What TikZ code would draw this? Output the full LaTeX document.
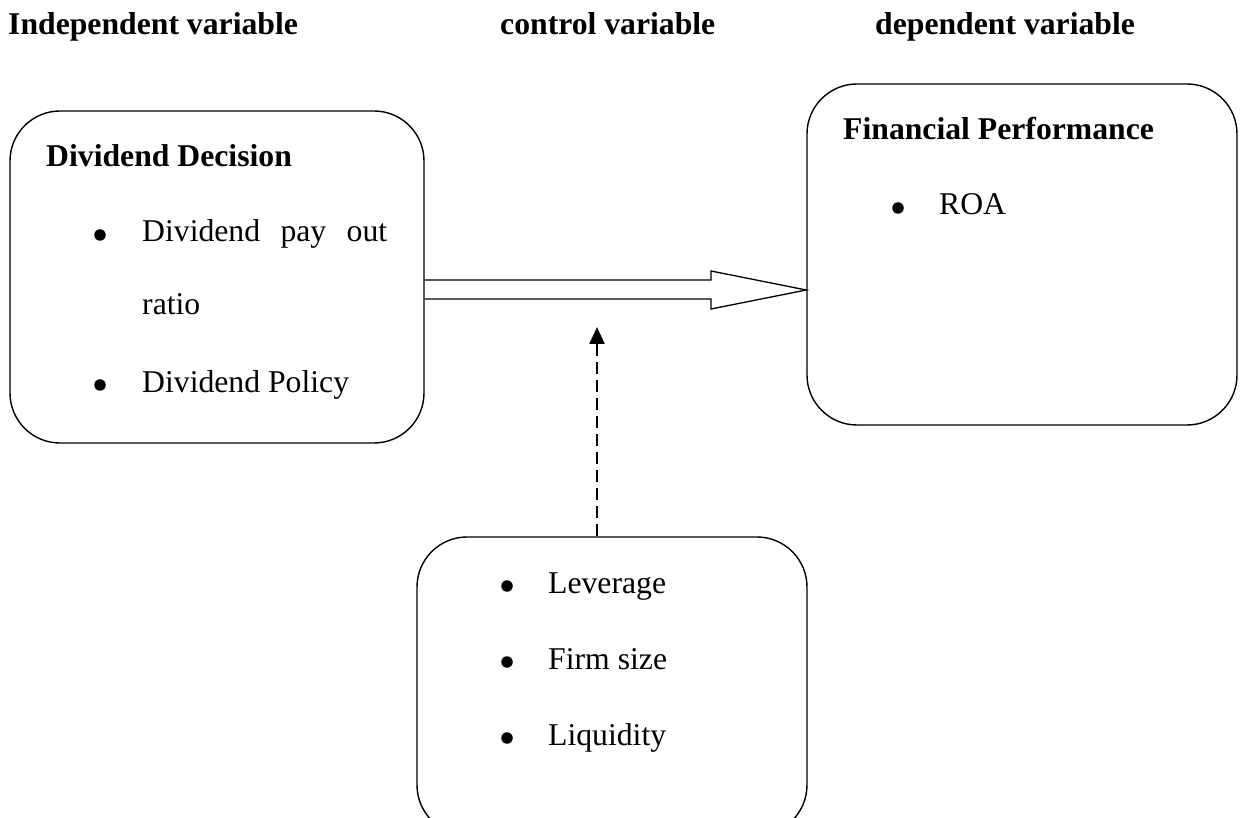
\documentclass[tikz,border=0pt]{standalone}
\usepackage{fontspec}
\setmainfont{Liberation Serif}
\usetikzlibrary{arrows.meta}
\begin{document}
\begin{tikzpicture}[x=1pt,y=-1pt,
  txt/.style={anchor=base west,inner sep=0pt,font=\fontsize{31.7}{38}\selectfont},
  hdr/.style={txt,font=\fontsize{31.7}{38}\selectfont\bfseries},
  rbox/.style={draw,line width=1.4pt,rounded corners=50pt,inner sep=0pt},
  bul/.style={circle,fill,inner sep=0pt,minimum size=11.5pt},
  bigarrow/.style={draw,line width=1.3pt,line join=miter},
  ctlarrow/.style={line width=2.4pt,dash pattern=on 12pt off 6pt,-{Triangle[length=17pt,width=15pt]}}]
\useasboundingbox (0,0) rectangle (1243,818);
\begin{scope}
\clip (0,0) rectangle (1243,818);
% headers
\node[hdr] (h1) at (8,35) {Independent variable};
\node[hdr] (h2) at (500,35) {control variable};
\node[hdr] (h3) at (875,35) {dependent variable};
% boxes
\node[rbox,minimum width=414pt,minimum height=332pt] (L) at (217,277) {};
\node[rbox,minimum width=430pt,minimum height=341pt] (R) at (1022,254.5) {};
\node[rbox,minimum width=390pt,minimum height=298pt] (B) at (612,686) {};
% left box content
\node[hdr] (ld) at (46,167) {Dividend Decision};
\node[bul] (lb1) at (100,235) {};
\node[txt] (lt1) at (142,242) {\makebox[245pt][s]{Dividend pay out}};
\node[txt] (lt2) at (142,315) {ratio};
\node[bul] (lb2) at (100,385) {};
\node[txt] (lt3) at (142,392) {Dividend Policy};
% right box content
\node[hdr] (rd) at (843,140) {Financial Performance};
\node[bul] (rb1) at (898,208) {};
\node[txt] (rt1) at (939,215) {ROA};
% bottom box content
\node[bul] (bb1) at (507,586) {};
\node[txt] (bt1) at (548,593) {Leverage};
\node[bul] (bb2) at (507,662) {};
\node[txt] (bt2) at (548,669) {Firm size};
\node[bul] (bb3) at (507,738) {};
\node[txt] (bt3) at (548,745) {Liquidity};
% big hollow arrow
\draw[bigarrow] (L.east |- 0,280) -- (711,280) -- (711,271) -- (R.west |- 0,290)
  -- (711,309) -- (711,299) -- (L.east |- 0,299);
% dashed control arrow
\coordinate (ctl) at (597,327);
\draw[ctlarrow] (B.north -| ctl) -- (ctl);
\end{scope}
\end{tikzpicture}
\end{document}
